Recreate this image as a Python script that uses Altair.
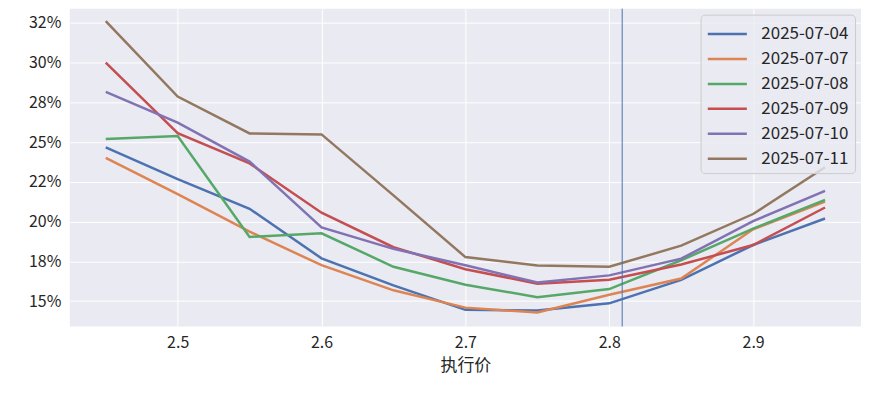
import altair as alt
import pandas as pd

# ---- data ----
strikes = [2.45, 2.50, 2.55, 2.60, 2.65, 2.70, 2.75, 2.80, 2.85, 2.90, 2.95]
dates = ["2025-07-04", "2025-07-07", "2025-07-08", "2025-07-09", "2025-07-10", "2025-07-11"]
iv_0704 = [24.67, 22.68, 20.81, 17.69, 15.99, 14.45, 14.41, 14.86, 16.34, 18.53, 20.20]
iv_0707 = [24.01, 21.73, 19.37, 17.26, 15.68, 14.59, 14.28, 15.40, 16.42, 19.52, 21.26]
iv_0708 = [25.20, 25.39, 19.04, 19.27, 17.16, 16.03, 15.25, 15.76, 17.57, 19.56, 21.37]
iv_0709 = [30.00, 25.57, 23.66, 20.56, 18.39, 17.01, 16.10, 16.34, 17.30, 18.53, 20.89]
iv_0710 = [28.16, 26.23, 23.78, 19.64, 18.29, 17.26, 16.17, 16.62, 17.67, 20.03, 21.94]
iv_0711 = [32.61, 27.87, 25.55, 25.49, 21.65, 17.77, 17.24, 17.16, 18.49, 20.48, 23.42]
spot_price = [2.809]

y_tick_values = [0.15, 0.175, 0.20, 0.225, 0.25, 0.275, 0.30, 0.325]
y_tick_labels = ["15%", "18%", "20%", "22%", "25%", "28%", "30%", "32%"]
x_tick_values = [2.5, 2.6, 2.7, 2.8, 2.9]

colors = ["#4c72b0", "#dd8452", "#55a868", "#c44e52", "#8172b3", "#937860"]

series = [iv_0704, iv_0707, iv_0708, iv_0709, iv_0710, iv_0711]
rows = []
for d, vals in zip(dates, series):
    for k, v in zip(strikes, vals):
        rows.append({"strike": k, "iv": v / 100.0, "date": d})
df = pd.DataFrame(rows)
spot_df = pd.DataFrame({"spot": spot_price})

# label expression for y ticks (matplotlib-style rounding)
expr = "''"
for t, lab in reversed(list(zip(y_tick_values, y_tick_labels))):
    expr = f"abs(datum.value - {t}) < 0.001 ? '{lab}' : ({expr})"

FONT = "Noto Sans CJK SC"

x_scale = alt.Scale(domain=[2.425, 2.975], nice=False, zero=False)
y_scale = alt.Scale(domain=[0.134, 0.334], nice=False, zero=False)

lines = alt.Chart(df).mark_line(strokeWidth=2.5).encode(
    x=alt.X("strike:Q", scale=x_scale,
            axis=alt.Axis(values=x_tick_values, format=".1f", title="执行价",
                          labelPadding=8, titlePadding=7, labelFontSize=16,
                          titleFontSize=17, labelFont=FONT, titleFont=FONT,
                          titleFontWeight="normal")),
    y=alt.Y("iv:Q", scale=y_scale,
            axis=alt.Axis(values=y_tick_values, labelExpr=expr, title=None,
                          labelPadding=9, labelFontSize=16, labelFont=FONT)),
    color=alt.Color("date:N", scale=alt.Scale(domain=dates, range=colors),
                    legend=alt.Legend(title=None, orient="top-right", offset=6,
                                      symbolType="M-1,0L2.2,0", symbolStrokeWidth=2.5,
                                      symbolSize=600, labelFontSize=17, labelFont=FONT,
                                      labelColor="#262626", fillColor="rgba(234,234,242,0.8)",
                                      strokeColor="#cccccc", padding=6, cornerRadius=4,
                                      rowPadding=3, labelOffset=28)),
)

spot = alt.Chart(spot_df).mark_rule(color="#4c72b0", strokeWidth=1).encode(
    x=alt.X("spot:Q", scale=x_scale)
)

chart = alt.layer(lines, spot).properties(
    width=794, height=319,
    autosize=alt.AutoSizeParams(type="none"),
    padding={"left": 62, "top": 0, "right": 0, "bottom": 60},
    background="white",
).configure_view(
    fill="#eaeaf2", stroke=None
).configure_axis(
    grid=True, gridColor="white", gridWidth=1, domain=False, ticks=False,
    labelColor="#262626", titleColor="#262626"
)

chart.save("out.html", embed_options={"renderer": "svg", "actions": False})
